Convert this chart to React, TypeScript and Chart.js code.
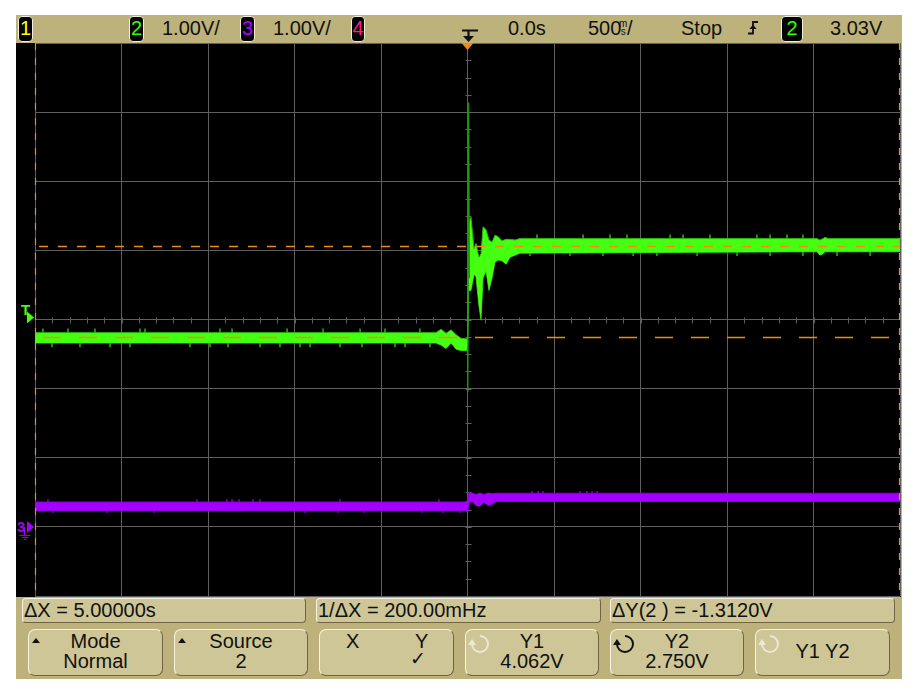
import React, { useEffect, useRef } from "react";
import { Chart, registerables } from "chart.js";

Chart.register(...registerables);

// ---- axes (500 ms/div, 1 V/div) ----
const TIME_MIN = -2.5;
const TIME_MAX = 2.5;
const TIME_STEP = 0.5;
const TIME_MINOR = 0.1;
const VOLT_MIN = -1;
const VOLT_MAX = 7;
const VOLT_STEP = 1;
const VOLT_MINOR = 0.25;
const CENTER_V = 3;

// ---- cursors / trigger ----
const CURSOR_X1 = -2.5;
const CURSOR_X2 = 2.5;
const CURSOR_Y1 = 4.062;
const CURSOR_Y2 = 2.75;
const TRIG_TIME = 0;
const TRIG_LEVEL = 3.03;
const GROUND_V = 0;

// ---- channel 2 (green) envelope: time (s), upper (V), lower (V) ----
const G_T = [-2.5, -0.182, -0.153, -0.124, -0.095, -0.066, -0.038, -0.009, 0.0, 0.006, 0.02, 0.038, 0.049, 0.066, 0.078, 0.09, 0.107, 0.124, 0.142, 0.159, 0.176, 0.199, 0.223, 0.246, 0.275, 0.303, 2.02, 2.037, 2.055, 2.066, 2.084, 2.5];
const G_HI = [2.81, 2.81, 2.86, 2.8, 2.85, 2.78, 2.73, 2.72, 2.72, 4.39, 4.48, 4.02, 4.1, 3.9, 3.95, 4.34, 4.3, 4.15, 4.12, 4.22, 4.2, 4.14, 4.16, 4.16, 4.15, 4.17, 4.17, 4.15, 4.17, 4.19, 4.17, 4.17];
const G_LO = [2.66, 2.66, 2.63, 2.58, 2.66, 2.57, 2.55, 2.55, 2.55, 3.42, 3.42, 3.65, 3.62, 3.2, 2.99, 3.6, 3.7, 3.42, 3.6, 3.83, 3.86, 3.85, 3.8, 3.9, 3.93, 3.96, 3.98, 3.93, 3.95, 3.98, 3.98, 3.98];
// thin glitch at the edge
const G_GLITCH_T = [0.0, 0.002, 0.007, 0.011];
const G_GLITCH_V = [2.6, 1.95, 6.14, 3.6];
// noise spikes (times), with tip levels
const G_NOISE_PRE_UP = [-2.454, -2.309, -2.153, -1.893, -1.864, -1.431, -1.361, -1.043, -0.835, -0.621, -0.477, -0.275];
const G_NOISE_PRE_DN = [-2.402, -2.24, -2.066, -1.951, -1.604, -1.488, -1.384, -1.199, -1.084, -0.968, -0.91, -0.737, -0.61, -0.419, -0.361, -0.217];
const G_NOISE_POST_UP = [0.402, 0.668, 0.824, 0.922, 1.171, 1.246, 1.402, 1.673, 1.749, 1.847, 1.939];
const G_NOISE_POST_DN = [0.361, 0.592, 0.783, 0.957, 1.095, 1.327, 1.558, 1.749, 1.939, 2.136, 2.327];
const G_PRE_MID = 2.74;
const G_PRE_UP_TIP = 2.87;
const G_PRE_DN_TIP = 2.6;
const G_POST_MID = 4.07;
const G_POST_UP_TIP = 4.23;
const G_POST_DN_TIP = 3.92;

// ---- channel 3 (purple) envelope ----
const P_T = [-2.5, -0.014, 0.0, 0.009, 0.026, 0.049, 0.072, 0.095, 0.119, 0.142, 0.165, 2.5];
const P_HI = [0.36, 0.36, 0.38, 0.5, 0.49, 0.47, 0.49, 0.47, 0.49, 0.48, 0.487, 0.487];
const P_LO = [0.236, 0.236, 0.21, 0.35, 0.37, 0.31, 0.3, 0.36, 0.31, 0.33, 0.366, 0.366];
const P_NOISE_PRE_UP = [-2.425, -1.564, -1.39, -1.361, -1.321, -1.24, -1.199, -0.737, -0.165];
const P_NOISE_PRE_DN = [-2.396, -2.084, -1.812, -0.939, -0.749, -0.598, -0.263, -0.142, -0.043];
const P_NOISE_POST_UP = [0.373, 0.408, 0.436, 0.65, 0.691, 0.72, 0.749];
const P_PRE_MID = 0.3;
const P_PRE_UP_TIP = 0.4;
const P_PRE_DN_TIP = 0.2;
const P_POST_MID = 0.43;
const P_POST_UP_TIP = 0.52;

// ---- colours ----
const GREEN = "#45ff10";
const GREEN_EDGE = "#28b80c";
const GREEN_DARK = "#1f9a10";
const PURPLE = "#a400ff";
const PURPLE_EDGE = "#8400d8";
const ORANGE = "#f28a14";
const GRID = "#5f5f5f";
const BEIGE = "#bdb27b";
const FACE = "#cfc697";
const FONT = '"Liberation Sans", Arial, Helvetica, sans-serif';

const pts = (t: number[], v: number[]) => t.map((x, i) => ({ x, y: v[i] }));
const spikes = (times: number[], mid: number, tip: number) => {
  const out: { x: number; y: number | null }[] = [];
  times.forEach((t) => {
    out.push({ x: t, y: mid }, { x: t, y: tip }, { x: t, y: null });
  });
  return out;
};

const scopeMarks = {
  id: "scopeMarks",
  beforeDatasetsDraw(chart: any) {
    const { ctx, scales } = chart;
    const x = scales.x;
    const y = scales.y;
    ctx.save();
    ctx.strokeStyle = GRID;
    ctx.lineWidth = 1;
    const yc = Math.round(y.getPixelForValue(CENTER_V)) + 0.5;
    const xc = Math.round(x.getPixelForValue(TRIG_TIME)) + 0.5;
    ctx.beginPath();
    for (let t = TIME_MIN; t <= TIME_MAX + 1e-9; t += TIME_MINOR) {
      const px = Math.round(x.getPixelForValue(t)) + 0.5;
      ctx.moveTo(px, yc - 3);
      ctx.lineTo(px, yc + 3);
    }
    for (let v = VOLT_MIN; v <= VOLT_MAX + 1e-9; v += VOLT_MINOR) {
      const py = Math.round(y.getPixelForValue(v)) + 0.5;
      ctx.moveTo(xc - 3, py);
      ctx.lineTo(xc + 3, py);
    }
    ctx.stroke();
    ctx.restore();
  },
  afterDatasetsDraw(chart: any) {
    const { ctx, chartArea: a, scales } = chart;
    const x = scales.x;
    const y = scales.y;
    ctx.save();
    ctx.strokeStyle = ORANGE;
    ctx.lineWidth = 1.4;
    // horizontal cursors
    const hy1 = Math.round(y.getPixelForValue(CURSOR_Y1)) + 0.5;
    ctx.setLineDash([9, 10]);
    ctx.beginPath();
    ctx.moveTo(a.left + 4, hy1);
    ctx.lineTo(a.right, hy1);
    ctx.stroke();
    const hy2 = Math.round(y.getPixelForValue(CURSOR_Y2)) + 0.5;
    ctx.setLineDash([18, 18]);
    ctx.lineDashOffset = -8;
    ctx.beginPath();
    ctx.moveTo(a.left, hy2);
    ctx.lineTo(a.right, hy2);
    ctx.stroke();
    // vertical cursors
    ctx.setLineDash([7, 8]);
    ctx.lineDashOffset = 0;
    ctx.lineWidth = 1.2;
    [CURSOR_X1, CURSOR_X2].forEach((c) => {
      const vx = Math.round(x.getPixelForValue(c)) + (c > 0 ? -0.5 : 0.5);
      ctx.beginPath();
      ctx.moveTo(vx, a.top);
      ctx.lineTo(vx, a.bottom);
      ctx.stroke();
    });
    ctx.setLineDash([]);
    // trigger position marker (top)
    const tx = x.getPixelForValue(TRIG_TIME);
    ctx.fillStyle = ORANGE;
    ctx.beginPath();
    ctx.moveTo(tx - 6, a.top);
    ctx.lineTo(tx + 6, a.top);
    ctx.lineTo(tx, a.top + 7);
    ctx.closePath();
    ctx.fill();
    // trigger level marker (left)
    const ty = y.getPixelForValue(TRIG_LEVEL);
    const mx = a.left - 1;
    ctx.fillStyle = GREEN;
    ctx.beginPath();
    ctx.moveTo(mx - 7, ty - 6);
    ctx.lineTo(mx, ty);
    ctx.lineTo(mx - 7, ty + 6);
    ctx.closePath();
    ctx.fill();
    // ground marker ch3 (and ch2 beneath)
    const gy = y.getPixelForValue(GROUND_V);
    ctx.fillStyle = PURPLE;
    ctx.beginPath();
    ctx.moveTo(mx - 7, gy - 6);
    ctx.lineTo(mx, gy);
    ctx.lineTo(mx - 7, gy + 6);
    ctx.closePath();
    ctx.fill();
    ctx.strokeStyle = PURPLE;
    ctx.lineWidth = 1;
    const sx = mx - 9.5;
    ctx.beginPath();
    ctx.moveTo(sx, gy);
    ctx.lineTo(sx, gy + 8);
    ctx.moveTo(sx - 5, gy + 8.5);
    ctx.lineTo(sx + 6, gy + 8.5);
    ctx.moveTo(sx - 3, gy + 10.5);
    ctx.lineTo(sx + 4, gy + 10.5);
    ctx.moveTo(sx - 1, gy + 12.5);
    ctx.lineTo(sx + 2, gy + 12.5);
    ctx.stroke();
    ctx.restore();
  },
};

const lineDs = (data: any, opts: any) => ({
  data,
  pointRadius: 0,
  tension: 0,
  spanGaps: false,
  fill: false,
  ...opts,
});

const Box = ({ x, y, w, h, r, face, children }: any) => (
  <div
    style={{
      position: "absolute",
      left: x,
      top: y,
      width: w,
      height: h,
      boxSizing: "border-box",
      background: face,
      borderRadius: r,
      borderTop: "1.5px solid #f6f2e2",
      borderLeft: "1.5px solid #f6f2e2",
      borderBottom: "1.5px solid #6f6542",
      borderRight: "1.5px solid #6f6542",
    }}
  >
    {children}
  </div>
);

const Txt = ({ x, y, size = 20, color = "#111", w, align, children, family }: any) => (
  <div
    style={{
      position: "absolute",
      left: x,
      top: y,
      width: w,
      textAlign: align || "left",
      fontSize: size,
      lineHeight: size + "px",
      color,
      fontFamily: family || FONT,
      whiteSpace: "nowrap",
    }}
  >
    {children}
  </div>
);

const ChBox = ({ x, w, color, label }: any) => (
  <div
    style={{
      position: "absolute",
      left: x,
      top: 16,
      width: w,
      height: 26,
      boxSizing: "border-box",
      background: "#000",
      border: "1.5px solid #f2eedc",
      borderRadius: 4,
      color,
      fontFamily: FONT,
      fontSize: 20,
      lineHeight: "23px",
      textAlign: "center",
    }}
  >
    {label}
  </div>
);

const RotIcon = ({ x, color }: any) => (
  <svg style={{ position: "absolute", left: x, top: 632 }} width={26} height={24}>
    <path d="M 5 12 A 8 8 0 1 0 13 4" fill="none" stroke={color} strokeWidth={2} />
    <path d="M 1 13 L 9 13 L 5 7 Z" fill={color} />
  </svg>
);

const UpTri = ({ x }: any) => (
  <div
    style={{
      position: "absolute",
      left: x,
      top: 638,
      width: 0,
      height: 0,
      borderLeft: "4px solid transparent",
      borderRight: "4px solid transparent",
      borderBottom: "5px solid #111",
    }}
  />
);

export default function App() {
  const ref = useRef<HTMLCanvasElement>(null);

  useEffect(() => {
    if (!ref.current) return;
    const chart = new Chart(ref.current, {
      type: "line",
      data: {
        datasets: [
          lineDs(pts(G_GLITCH_T, G_GLITCH_V), { borderColor: GREEN_DARK, borderWidth: 1.2, order: 1 }),
          lineDs(pts(G_T, G_HI), { borderColor: GREEN_EDGE, borderWidth: 1, backgroundColor: GREEN, fill: "+1", order: 2 }),
          lineDs(pts(G_T, G_LO), { borderColor: GREEN_EDGE, borderWidth: 1, order: 2 }),
          lineDs(
            [
              ...spikes(G_NOISE_PRE_UP, G_PRE_MID, G_PRE_UP_TIP),
              ...spikes(G_NOISE_PRE_DN, G_PRE_MID, G_PRE_DN_TIP),
              ...spikes(G_NOISE_POST_UP, G_POST_MID, G_POST_UP_TIP),
              ...spikes(G_NOISE_POST_DN, G_POST_MID, G_POST_DN_TIP),
            ],
            { borderColor: GREEN_EDGE, borderWidth: 1.5, order: 5 }
          ),
          lineDs(pts(P_T, P_HI), { borderColor: PURPLE_EDGE, borderWidth: 1, backgroundColor: PURPLE, fill: "+1", order: 3 }),
          lineDs(pts(P_T, P_LO), { borderColor: PURPLE_EDGE, borderWidth: 1, order: 3 }),
          lineDs(
            [
              ...spikes(P_NOISE_PRE_UP, P_PRE_MID, P_PRE_UP_TIP),
              ...spikes(P_NOISE_PRE_DN, P_PRE_MID, P_PRE_DN_TIP),
              ...spikes(P_NOISE_POST_UP, P_POST_MID, P_POST_UP_TIP),
            ],
            { borderColor: PURPLE_EDGE, borderWidth: 1.5, order: 6 }
          ),
        ],
      },
      options: {
        animation: false,
        responsive: false,
        devicePixelRatio: 1,
        events: [],
        layout: { padding: { left: 19, right: 1, top: 0, bottom: 1 } },
        plugins: {
          legend: { display: false },
          tooltip: { enabled: false },
          title: { display: false },
        },
        scales: {
          x: {
            type: "linear",
            min: TIME_MIN,
            max: TIME_MAX,
            ticks: { display: false, stepSize: TIME_STEP },
            grid: { color: GRID, lineWidth: 1, drawTicks: false },
            border: { display: false },
          },
          y: {
            type: "linear",
            min: VOLT_MIN,
            max: VOLT_MAX,
            ticks: { display: false, stepSize: VOLT_STEP },
            grid: { color: GRID, lineWidth: 1, drawTicks: false },
            border: { display: false },
          },
        },
      } as any,
      plugins: [scopeMarks],
    } as any);
    return () => chart.destroy();
  }, []);

  return (
    <div
      style={{
        position: "fixed",
        left: 0,
        top: 0,
        width: 918,
        height: 695,
        background: "#fff",
        overflow: "hidden",
        fontFamily: FONT,
      }}
    >
      {/* instrument frame */}
      <div style={{ position: "absolute", left: 16, top: 15, width: 886, height: 664, background: BEIGE }} />

      {/* top status bar */}
      <ChBox x={18} w={15} color="#ffff00" label="1" />
      <ChBox x={129} w={15} color="#33ff00" label="2" />
      <Txt x={162} y={18}>1.00V/</Txt>
      <ChBox x={240} w={15} color="#b000ff" label="3" />
      <Txt x={273} y={18}>1.00V/</Txt>
      <ChBox x={351} w={14} color="#ff1a8c" label="4" />
      <svg style={{ position: "absolute", left: 460, top: 26 }} width={20} height={17}>
        <path d="M 2 4.5 L 18 4.5 M 8.5 4 L 8.5 11" stroke="#111" strokeWidth={2.2} fill="none" />
        <path d="M 3 10 L 14 10 L 8.5 16 Z" fill="#111" />
      </svg>
      <Txt x={508} y={18}>0.0s</Txt>
      <Txt x={588} y={18}>500</Txt>
      <div style={{ position: "absolute", left: 619, top: 20, fontSize: 10, lineHeight: "8px", color: "#111", textAlign: "center" }}>
        <div>m</div>
        <div>s</div>
      </div>
      <Txt x={627} y={18}>/</Txt>
      <Txt x={681} y={18}>Stop</Txt>
      <svg style={{ position: "absolute", left: 746, top: 20 }} width={14} height={16}>
        <path d="M 2 13.5 L 7 13.5 L 7 2 L 12 2" stroke="#111" strokeWidth={1.8} fill="none" />
        <path d="M 3.5 9 L 10.5 9 L 7 4.5 Z" fill="#111" />
      </svg>
      <ChBox x={781} w={22} color="#33ff00" label="2" />
      <Txt x={830} y={18}>3.03V</Txt>

      {/* screen */}
      <canvas
        ref={ref}
        width={885}
        height={554}
        style={{ position: "absolute", left: 16, top: 43, width: 885, height: 554, background: "#000" }}
      />
      <div style={{ position: "absolute", left: 21, top: 302, color: GREEN, fontSize: 15, lineHeight: "15px", fontWeight: "bold", fontFamily: FONT }}>T</div>
      <div style={{ position: "absolute", left: 17, top: 519, color: PURPLE, fontSize: 15, lineHeight: "15px", fontWeight: "bold", fontFamily: FONT }}>3</div>

      {/* measurement line */}
      <Box x={22} y={598} w={284} h={25} r={4} face={FACE} />
      <Txt x={24} y={600}>ΔX = 5.00000s</Txt>
      <Box x={316} y={598} w={285} h={25} r={4} face={FACE} />
      <Txt x={318} y={600}>1/ΔX = 200.00mHz</Txt>
      <Box x={610} y={598} w={285} h={25} r={4} face={FACE} />
      <Txt x={612} y={600}>ΔY(2 ) = -1.3120V</Txt>

      {/* softkeys */}
      <Box x={28} y={629} w={135} h={47} r={7} face={FACE} />
      <UpTri x={32} />
      <Txt x={28} y={631} w={135} align="center">Mode</Txt>
      <Txt x={28} y={651} w={135} align="center">Normal</Txt>

      <Box x={174} y={629} w={134} h={47} r={7} face={FACE} />
      <UpTri x={178} />
      <Txt x={174} y={631} w={134} align="center">Source</Txt>
      <Txt x={174} y={651} w={134} align="center">2</Txt>

      <Box x={319} y={629} w={135} h={47} r={7} face={FACE} />
      <Txt x={346} y={631}>X</Txt>
      <Txt x={415} y={631}>Y</Txt>
      <Txt x={410} y={649} size={19} family='"DejaVu Sans", sans-serif'>✓</Txt>

      <Box x={465} y={629} w={134} h={47} r={7} face={FACE} />
      <RotIcon x={467} color="#ece8d4" />
      <Txt x={465} y={631} w={134} align="center">Y1</Txt>
      <Txt x={465} y={651} w={134} align="center">4.062V</Txt>

      <Box x={610} y={629} w={134} h={47} r={7} face={FACE} />
      <RotIcon x={612} color="#111" />
      <Txt x={610} y={631} w={134} align="center">Y2</Txt>
      <Txt x={610} y={651} w={134} align="center">2.750V</Txt>

      <Box x={755} y={629} w={135} h={47} r={7} face={FACE} />
      <RotIcon x={757} color="#ece8d4" />
      <Txt x={755} y={641} w={135} align="center">Y1 Y2</Txt>
    </div>
  );
}
